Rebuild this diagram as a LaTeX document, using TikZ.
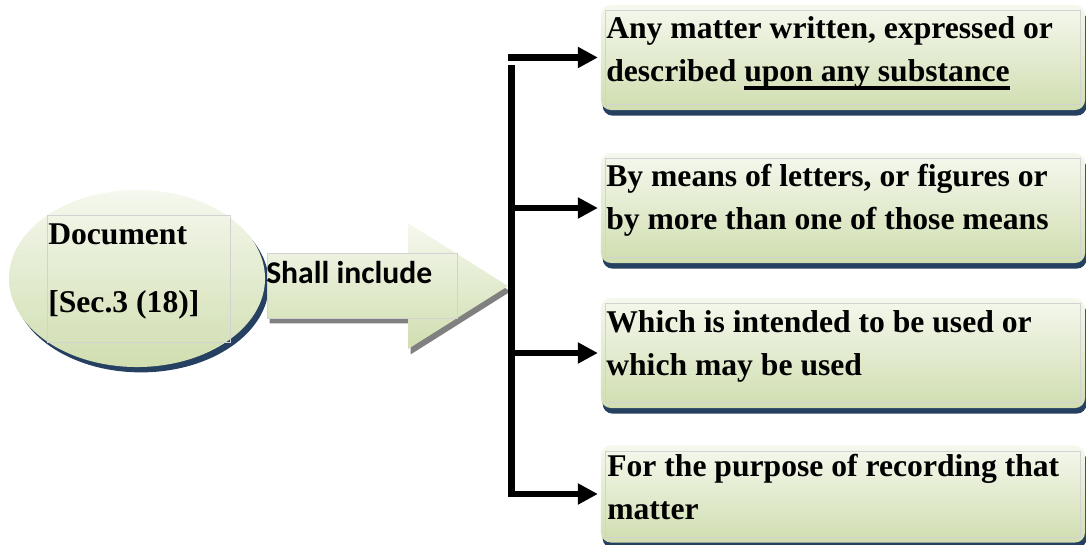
\documentclass[tikz,border=0pt]{standalone}
\usepackage{fontspec}
\setmainfont{Liberation Serif}
\newfontfamily\sansbold{Carlito}
\usetikzlibrary{arrows.meta, shadows, shapes.geometric, positioning}
\newsavebox{\linebox}
\newcommand{\lowline}[1]{\sbox\linebox{#1}\rlap{\rule[-5.8pt]{\wd\linebox}{3pt}}\usebox\linebox}
\definecolor{paletop}{RGB}{245,248,238}
\definecolor{palebot}{RGB}{208,222,176}
\definecolor{navyshade}{RGB}{38,64,97}

\begin{document}
\begin{tikzpicture}[
      x=0.025cm, y=-0.025cm,
      txt/.style={font=\fontsize{22.5}{30.6}\selectfont\bfseries, inner sep=0, align=left},
      pale/.style={top color=paletop, bottom color=palebot},
      docshape/.style={ellipse, pale, minimum width=6.4cm, minimum height=4.425cm, inner sep=0,
                       drop shadow={shadow xshift=2.8pt, shadow yshift=-3.8pt, fill=navyshade, opacity=1}},
      itembox/.style={rectangle, rounded corners=0.25cm, pale, minimum width=12.1cm, inner sep=0,
                      drop shadow={shadow xshift=1.2pt, shadow yshift=-4pt, fill=navyshade, opacity=1}},
      textframe/.style={draw=gray!35, line width=0.4pt, inner sep=0},
      link/.style={line width=0.16cm, -{Triangle[length=0.5cm, width=0.5cm]}, shorten >=0.07cm},
    ]
    \useasboundingbox (0,0) rectangle (1086,545);
    \clip (0,0) rectangle (1086,545);

    % ---- LEFT: document ellipse ----
    \node[docshape] (doc) at (137,278.5) {};
    \node[textframe, minimum width=4.575cm, minimum height=3.175cm] (docframe) at (138.5,278.5) {};
    \node[txt, anchor=north west] (doctext) at (48,223.6) {Document\\[18pt]{[Sec.3 (18)]}};

    % ---- MIDDLE: block arrow ----
    \path[pale, drop shadow={shadow xshift=1.8pt, shadow yshift=-3.9pt, fill=gray, opacity=1}]
      (267,253) -- (408,253) -- (408,223) -- (508,286) -- (408,349) -- (408,318) -- (267,318) -- cycle;
    \node[textframe, minimum width=4.75cm, minimum height=1.625cm] (inclframe) at (362,285.5) {};
    \node[txt, font=\sansbold\fontsize{22.5}{30.6}\selectfont\bfseries, anchor=base west]
      (incl) at (266,283) {Shall include};

    % ---- RIGHT: item boxes ----
    \node[itembox, minimum height=2.625cm] (b1) at (843,57.5) {};
    \node[itembox, minimum height=2.75cm] (b2) at (843,208) {};
    \node[itembox, minimum height=2.75cm] (b3) at (843,353) {};
    \node[itembox, minimum height=2.425cm] (b4) at (843,494) {};
    \foreach \i in {1,...,4}
      \draw[textframe] ([shift={(5,6)}]b\i.north west) rectangle ([shift={(-5,-6)}]b\i.south east);

    \node[txt, anchor=north west] (t1) at (606,16.6)
      {Any matter written, expressed or\\described \lowline{upon any substance}};
    \node[txt, anchor=north west] (t2) at (606,163.6)
      {By means of letters, or figures or\\by more than one of those means};
    \node[txt, anchor=north west] (t3) at (606,310.6)
      {Which is intended to be used or\\which may be used};
    \node[txt, anchor=north west] (t4) at (607,453.6)
      {For the purpose of recording that\\matter};

    % ---- bracket and arrows ----
    \coordinate (spinehead) at (508,59);
    \coordinate (spinetop) at (511.5,65);
    \draw[link] (spinehead |- b1.west) -- (b1.west);
    \foreach \i in {2,3}
      \draw[link] (spinetop |- b\i.west) -- (b\i.west);
    \draw[link] (spinetop) -- (spinetop |- b4.west) -- (b4.west);

  \end{tikzpicture}
\end{document}
